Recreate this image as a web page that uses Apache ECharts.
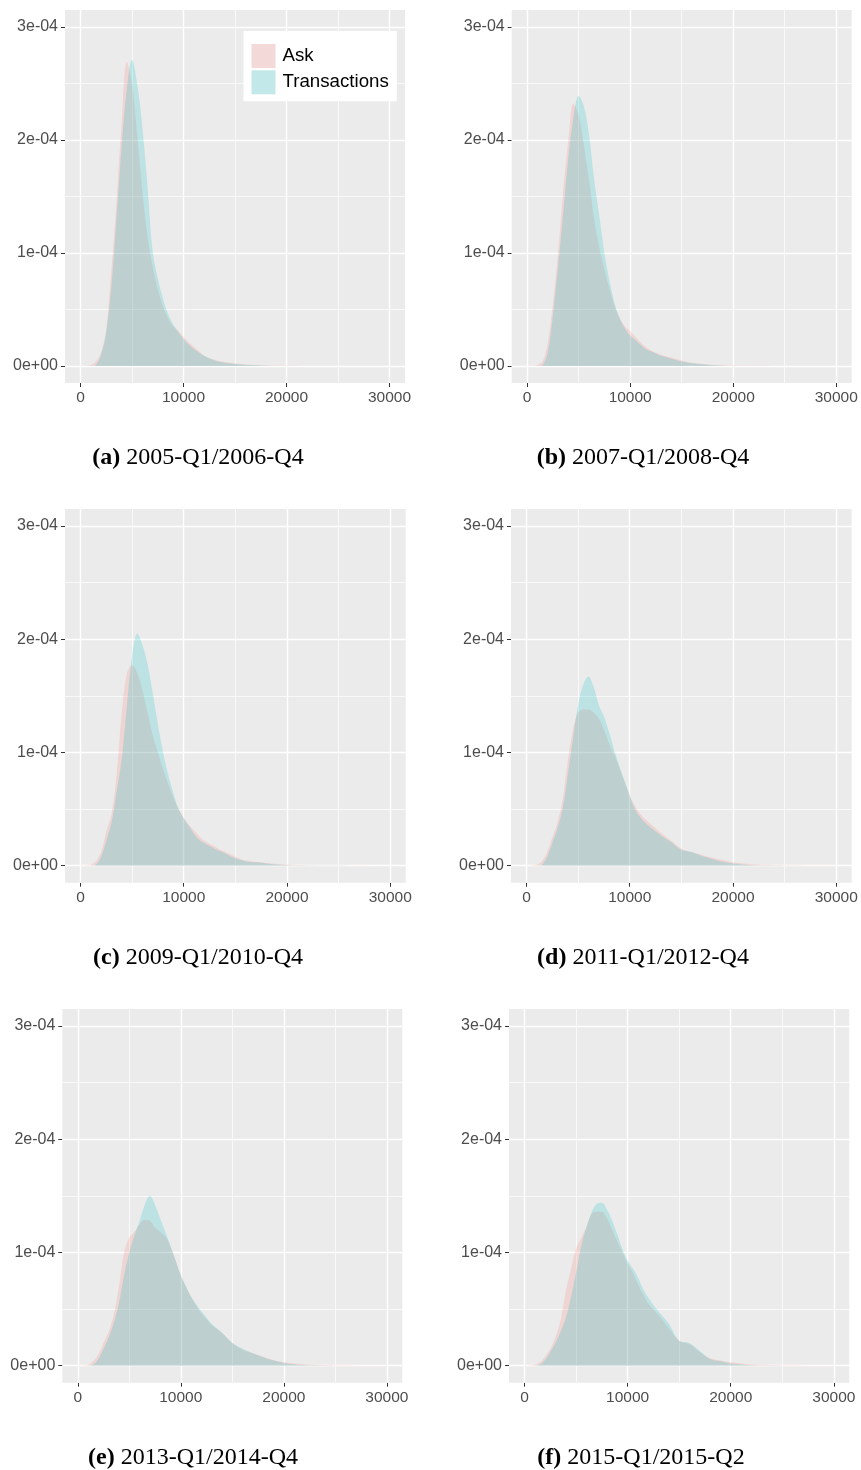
<!DOCTYPE html>
<html>
<head>
<meta charset="utf-8">
<script src="https://cdn.jsdelivr.net/npm/echarts@6/dist/echarts.min.js"></script>
<style>
html,body{margin:0;padding:0;background:#ffffff;}
#chart{width:861px;height:1470px;}
</style>
</head>
<body>
<div id="chart"></div>
<script>
// ---------- data ----------
// x grid (price) shared by all density curves
const xValues = [0,500,1000,1500,2000,2500,3000,3500,4000,4500,5000,5500,6000,6500,7000,7500,8000,8500,9000,9500,10000,10500,11000,11500,12000,13000,14000,15000,16000,17000,18000,19000,20000,22000,24000,26000,28000,30000];
// densities, in units of 1e-4
const DENSITY_UNIT = 1e-4;
const askA   = [0,0.003,0.01,0.04,0.12,0.32,0.85,1.45,2.15,2.69,2.5,2.05,1.55,1.15,0.88,0.68,0.53,0.42,0.35,0.31,0.26,0.21,0.17,0.13,0.09,0.055,0.035,0.022,0.014,0.009,0.006,0.004,0.003,0.0015,0.001,0.0005,0.0003,0.0002];
const transA = [0,0,0,0.01,0.1,0.3,0.7,1.3,1.95,2.45,2.71,2.5,2.12,1.6,1.02,0.78,0.6,0.46,0.37,0.3,0.24,0.19,0.15,0.12,0.09,0.05,0.03,0.018,0.01,0.006,0.003,0.001,0,0,0,0,0,0];
const askB   = [0,0.002,0.01,0.04,0.2,0.55,1.0,1.55,2.0,2.32,2.22,1.95,1.65,1.3,1.05,0.85,0.68,0.53,0.42,0.35,0.31,0.26,0.21,0.17,0.14,0.1,0.075,0.05,0.03,0.018,0.01,0.006,0.004,0.002,0.001,0.0005,0.0003,0.0001];
const transB = [0,0,0,0.01,0.12,0.45,0.88,1.35,1.85,2.2,2.39,2.3,2.05,1.65,1.33,1.0,0.75,0.55,0.42,0.33,0.27,0.23,0.19,0.15,0.13,0.09,0.065,0.04,0.025,0.015,0.008,0.003,0,0,0,0,0,0];
const askC   = [0,0.003,0.01,0.04,0.12,0.3,0.45,0.8,1.35,1.7,1.77,1.7,1.55,1.35,1.15,1.0,0.85,0.72,0.6,0.5,0.42,0.36,0.31,0.26,0.22,0.17,0.12,0.08,0.045,0.035,0.025,0.015,0.01,0.004,0.002,0.001,0.0005,0.0002];
const transC = [0,0,0,0.01,0.08,0.22,0.38,0.65,0.95,1.42,1.85,2.05,1.95,1.78,1.52,1.25,1.0,0.8,0.64,0.5,0.42,0.35,0.28,0.23,0.2,0.15,0.11,0.065,0.04,0.03,0.02,0.01,0.005,0.002,0.001,0,0,0];
const askD   = [0,0.003,0.01,0.04,0.12,0.25,0.38,0.58,0.92,1.2,1.35,1.38,1.38,1.35,1.3,1.2,1.08,0.98,0.86,0.74,0.62,0.53,0.46,0.41,0.37,0.29,0.22,0.15,0.12,0.095,0.07,0.05,0.03,0.012,0.006,0.003,0.001,0.0005];
const transD = [0,0,0,0.01,0.08,0.2,0.33,0.5,0.8,1.12,1.42,1.6,1.67,1.58,1.42,1.32,1.18,1.02,0.88,0.75,0.62,0.5,0.43,0.38,0.34,0.27,0.21,0.14,0.12,0.085,0.06,0.035,0.02,0.005,0.002,0,0,0];
const askE   = [0,0.003,0.01,0.04,0.1,0.2,0.3,0.45,0.7,1.0,1.13,1.18,1.25,1.29,1.28,1.22,1.18,1.14,1.05,0.93,0.8,0.7,0.61,0.53,0.46,0.36,0.29,0.2,0.14,0.11,0.08,0.05,0.03,0.012,0.006,0.003,0.001,0.0005];
const transE = [0,0,0,0.01,0.06,0.15,0.25,0.38,0.55,0.8,1.0,1.15,1.28,1.42,1.5,1.42,1.3,1.18,1.06,0.93,0.8,0.7,0.61,0.54,0.48,0.37,0.29,0.2,0.15,0.11,0.075,0.045,0.025,0.006,0.002,0,0,0];
const askF   = [0,0.003,0.01,0.03,0.08,0.15,0.25,0.4,0.65,0.85,1.03,1.13,1.22,1.34,1.36,1.36,1.3,1.2,1.1,1.0,0.9,0.82,0.72,0.63,0.55,0.45,0.33,0.22,0.19,0.12,0.065,0.045,0.03,0.012,0.006,0.003,0.001,0.0005];
const transF = [0,0,0,0.01,0.05,0.12,0.2,0.3,0.42,0.6,0.82,1.05,1.22,1.35,1.43,1.44,1.38,1.28,1.16,1.03,0.93,0.86,0.78,0.68,0.6,0.48,0.37,0.22,0.2,0.13,0.06,0.04,0.02,0.005,0.002,0,0,0];

const seriesNames = ['Ask', 'Transactions'];
const panelTags = ['(a)', '(b)', '(c)', '(d)', '(e)', '(f)'];
const panelPeriods = ['2005-Q1/2006-Q4', '2007-Q1/2008-Q4', '2009-Q1/2010-Q4', '2011-Q1/2012-Q4', '2013-Q1/2014-Q4', '2015-Q1/2015-Q2'];
const xTickLabels = [0, 10000, 20000, 30000];
const xGridValues = [0, 5000, 10000, 15000, 20000, 25000, 30000];
const yTickLabels = [0, 1, 2, 3];            // x 1e-4
const yGridValues = [0, 0.5, 1, 1.5, 2, 2.5, 3]; // x 1e-4

const askSets = [askA, askB, askC, askD, askE, askF];
const transSets = [transA, transB, transC, transD, transE, transF];

// ---------- layout ----------
const panelBoxes = [
  {left: 65,    top: 10,   width: 340,   height: 373},
  {left: 511.7, top: 10,   width: 340,   height: 373},
  {left: 65,    top: 509,  width: 340.7, height: 373.7},
  {left: 511,   top: 509,  width: 340.7, height: 373.7},
  {left: 62.3,  top: 1009, width: 340,   height: 373.7},
  {left: 509,   top: 1009, width: 340.3, height: 373.7}
];
const captionPos = [[198, 458], [643, 458], [198, 958], [643, 958], [193, 1458], [641, 1458]];

const X_MIN = -1500, X_MAX = 31500;
const Y_MIN = -0.15 * DENSITY_UNIT, Y_MAX = 3.15 * DENSITY_UNIT;

const ASK_COLOR = '#F8766D';
const TRANS_COLOR = '#00BFC4';
const FILL_ALPHA = 0.2;

function sciLabel(v) {
  if (Math.abs(v) < 1e-15) return '0e+00';
  const e = Math.floor(Math.log10(Math.abs(v)) + 1e-9);
  const m = Math.round(v / Math.pow(10, e));
  return m + 'e' + (e < 0 ? '-' : '+') + String(Math.abs(e)).padStart(2, '0');
}

const grids = [], xAxes = [], yAxes = [], series = [], graphics = [];

const xAxisFont = {fontFamily: 'Liberation Sans, Arial, sans-serif', fontSize: 15.5, color: '#4D4D4D'};
const yAxisFont = {fontFamily: 'Liberation Sans, Arial, sans-serif', fontSize: 16, color: '#4D4D4D'};

panelBoxes.forEach((b, i) => {
  grids.push({
    left: b.left, top: b.top, width: b.width, height: b.height,
    show: true, backgroundColor: '#EBEBEB', borderWidth: 0,
    containLabel: false, outerBoundsMode: 'none'
  });
  xAxes.push({
    type: 'value', gridIndex: i, min: X_MIN, max: X_MAX, position: 'bottom',
    axisLine: {show: false, onZero: false},
    axisTick: {show: true, length: 4, lineStyle: {color: '#333333', width: 1}, customValues: xTickLabels},
    axisLabel: Object.assign({show: true, margin: 7, customValues: xTickLabels, formatter: v => String(v)}, xAxisFont),
    splitLine: {show: false}, minorSplitLine: {show: false}
  });
  yAxes.push({
    type: 'value', gridIndex: i, min: Y_MIN, max: Y_MAX, position: 'left',
    axisLine: {show: false, onZero: false},
    axisTick: {show: true, length: 4, lineStyle: {color: '#333333', width: 1}, customValues: yTickLabels.map(v => v * DENSITY_UNIT)},
    axisLabel: Object.assign({show: true, margin: 7, customValues: yTickLabels.map(v => v * DENSITY_UNIT), formatter: v => sciLabel(v)}, yAxisFont),
    splitLine: {show: false}, minorSplitLine: {show: false}
  });

  const gridLines = [];
  xGridValues.forEach(v => gridLines.push({xAxis: v, lineStyle: {width: xTickLabels.indexOf(v) >= 0 ? 1.4 : 0.7}}));
  yGridValues.forEach(v => gridLines.push({yAxis: v * DENSITY_UNIT, lineStyle: {width: Number.isInteger(v) ? 1.4 : 0.7}}));

  const sets = [askSets[i], transSets[i]];
  const colors = [ASK_COLOR, TRANS_COLOR];
  sets.forEach((vals, s) => {
    const ser = {
      type: 'line', name: seriesNames[s],
      xAxisIndex: i, yAxisIndex: i,
      data: xValues.map((x, k) => [x, vals[k] * DENSITY_UNIT]),
      symbol: 'none', showSymbol: false,
      smooth: 0.35,
      lineStyle: {width: 0, opacity: 0},
      itemStyle: {color: colors[s]},
      areaStyle: {color: colors[s], opacity: FILL_ALPHA},
      z: 2 + s, silent: true, animation: false
    };
    if (s === 0) {
      ser.markLine = {
        silent: true, animation: false, symbol: ['none', 'none'], z: 1, precision: 12,
        label: {show: false}, emphasis: {disabled: true},
        lineStyle: {color: '#FFFFFF', type: 'solid'},
        data: gridLines
      };
    }
    series.push(ser);
  });

  graphics.push({
    type: 'text', x: captionPos[i][0], y: captionPos[i][1], silent: true,
    style: {
      text: '{b|' + panelTags[i] + '} ' + panelPeriods[i],
      fontFamily: 'Liberation Serif, Times New Roman, serif', fontSize: 24, fill: '#000',
      align: 'center', verticalAlign: 'middle',
      rich: {b: {fontWeight: 'bold', fontFamily: 'Liberation Serif, Times New Roman, serif', fontSize: 24}}
    }
  });
});

const chart = echarts.init(document.getElementById('chart'), null, {renderer: 'canvas'});
chart.setOption({
  animation: false,
  backgroundColor: '#FFFFFF',
  grid: grids,
  xAxis: xAxes,
  yAxis: yAxes,
  legend: {
    orient: 'vertical', left: 243.5, top: 31,
    padding: [13, 8, 7, 8], itemWidth: 24, itemHeight: 24, itemGap: 2.3,
    backgroundColor: '#FFFFFF', icon: 'rect', selectedMode: false,
    itemStyle: {borderWidth: 0},
    textStyle: {fontFamily: 'Liberation Sans, Arial, sans-serif', fontSize: 18.7, color: '#000000', padding: [0, 0, 0, 2]},
    data: [
      {name: seriesNames[0], itemStyle: {color: '#F3D9D7', opacity: 1}},
      {name: seriesNames[1], itemStyle: {color: '#C2E8E9', opacity: 1}}
    ]
  },
  graphic: graphics,
  series: series
});
</script>
</body>
</html>
